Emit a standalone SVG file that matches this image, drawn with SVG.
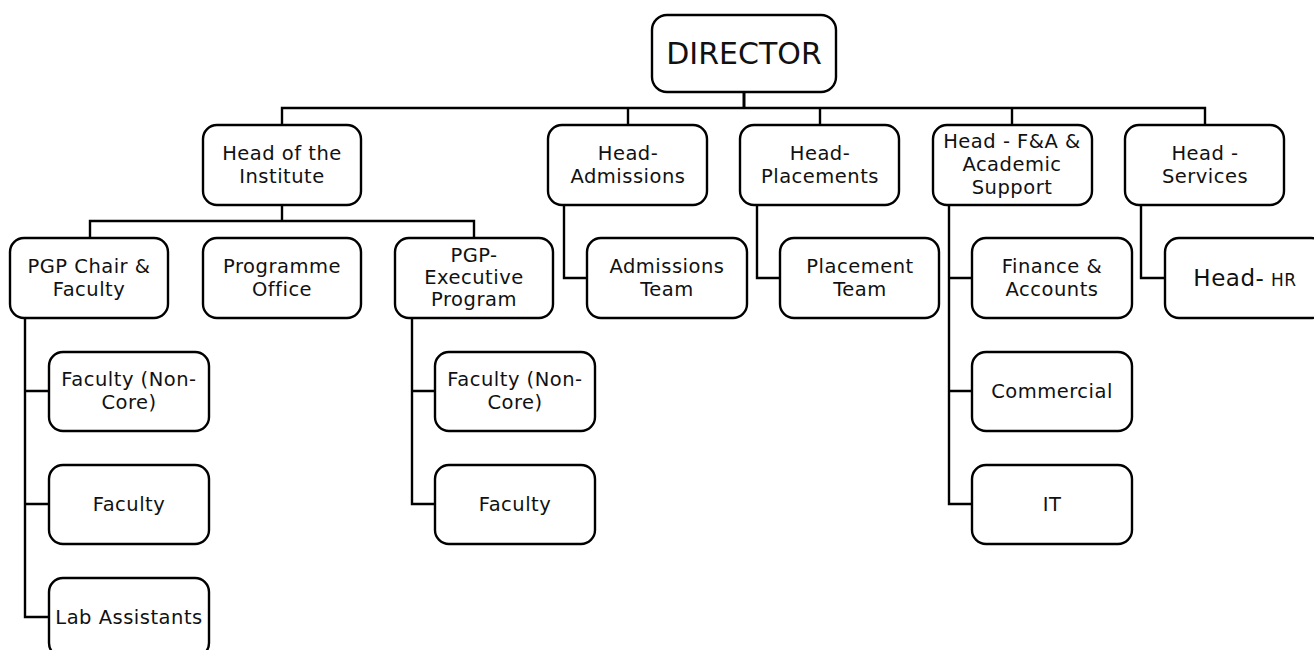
<svg xmlns="http://www.w3.org/2000/svg" width="1314" height="650" viewBox="0 0 1314 650">
<style>
.box{fill:#fff;stroke:#000;stroke-width:2.4}
.t{font-family:"DejaVu Sans",sans-serif;font-size:19.5px;fill:#111;text-anchor:middle;letter-spacing:0.5px}
.big{font-size:30px;letter-spacing:0}
.c{fill:none;stroke:#000;stroke-width:2.4}
</style>
<rect width="1314" height="650" fill="#fff"/>
<g id="connectors">
<path class="c" d="M744 92V108" style="stroke-width:3"/>
<path class="c" d="M282 125V108H1205V125"/>
<path class="c" d="M628 108V125M820 108V125M1012 108V125"/>
<path class="c" d="M282 205V221M90 238V221H474V238"/>
<path class="c" d="M25 318V617H49M25 391H49M25 504H49"/>
<path class="c" d="M412 318V504H435M412 391H435"/>
<path class="c" d="M564 205V278H587"/>
<path class="c" d="M757 205V278H780"/>
<path class="c" d="M949 205V504H972M949 278H972M949 391H972"/>
<path class="c" d="M1141 205V278H1165"/>
</g>
<g id="director"><rect class="box" x="652" y="15" width="184" height="77" rx="15"/><text class="t big" x="744" y="64">DIRECTOR</text></g>
<g id="head-institute"><rect class="box" x="203" y="125" width="158" height="80" rx="14"/><text class="t" x="282" y="160">Head of the</text><text class="t" x="282" y="183">Institute</text></g>
<g id="head-admissions"><rect class="box" x="548" y="125" width="159" height="80" rx="14"/><text class="t" x="628" y="160">Head-</text><text class="t" x="628" y="183">Admissions</text></g>
<g id="head-placements"><rect class="box" x="740" y="125" width="159" height="80" rx="14"/><text class="t" x="820" y="160">Head-</text><text class="t" x="820" y="183">Placements</text></g>
<g id="head-fa"><rect class="box" x="933" y="125" width="159" height="80" rx="14"/><text class="t" x="1012" y="148">Head - F&amp;A &amp;</text><text class="t" x="1012" y="171">Academic</text><text class="t" x="1012" y="194">Support</text></g>
<g id="head-services"><rect class="box" x="1125" y="125" width="159" height="80" rx="14"/><text class="t" x="1205" y="160">Head -</text><text class="t" x="1205" y="183">Services</text></g>
<g id="pgp-chair"><rect class="box" x="10" y="238" width="158" height="80" rx="14"/><text class="t" x="89" y="273">PGP Chair &amp;</text><text class="t" x="89" y="296">Faculty</text></g>
<g id="programme-office"><rect class="box" x="203" y="238" width="158" height="80" rx="14"/><text class="t" x="282" y="273">Programme</text><text class="t" x="282" y="296">Office</text></g>
<g id="pgp-exec"><rect class="box" x="395" y="238" width="158" height="80" rx="14"/><text class="t" x="474" y="262">PGP-</text><text class="t" x="474" y="284">Executive</text><text class="t" x="474" y="306">Program</text></g>
<g id="admissions-team"><rect class="box" x="587" y="238" width="160" height="80" rx="14"/><text class="t" x="667" y="273">Admissions</text><text class="t" x="667" y="296">Team</text></g>
<g id="placement-team"><rect class="box" x="780" y="238" width="159" height="80" rx="14"/><text class="t" x="860" y="273">Placement</text><text class="t" x="860" y="296">Team</text></g>
<g id="finance"><rect class="box" x="972" y="238" width="160" height="80" rx="14"/><text class="t" x="1052" y="273">Finance &amp;</text><text class="t" x="1052" y="296">Accounts</text></g>
<g id="head-hr"><rect class="box" x="1165" y="238" width="160" height="80" rx="14"/><text class="t" x="1245" y="286"><tspan style="font-size:23px">Head-</tspan> <tspan style="font-size:17px">HR</tspan></text></g>
<g id="faculty-noncore-1"><rect class="box" x="49" y="352" width="160" height="79" rx="14"/><text class="t" x="129" y="386">Faculty (Non-</text><text class="t" x="129" y="409">Core)</text></g>
<g id="faculty-1"><rect class="box" x="49" y="465" width="160" height="79" rx="14"/><text class="t" x="129" y="511">Faculty</text></g>
<g id="lab-assistants"><rect class="box" x="49" y="578" width="160" height="79" rx="14"/><text class="t" x="129" y="624">Lab Assistants</text></g>
<g id="faculty-noncore-2"><rect class="box" x="435" y="352" width="160" height="79" rx="14"/><text class="t" x="515" y="386">Faculty (Non-</text><text class="t" x="515" y="409">Core)</text></g>
<g id="faculty-2"><rect class="box" x="435" y="465" width="160" height="79" rx="14"/><text class="t" x="515" y="511">Faculty</text></g>
<g id="commercial"><rect class="box" x="972" y="352" width="160" height="79" rx="14"/><text class="t" x="1052" y="398">Commercial</text></g>
<g id="it"><rect class="box" x="972" y="465" width="160" height="79" rx="14"/><text class="t" x="1052" y="511">IT</text></g>
</svg>
